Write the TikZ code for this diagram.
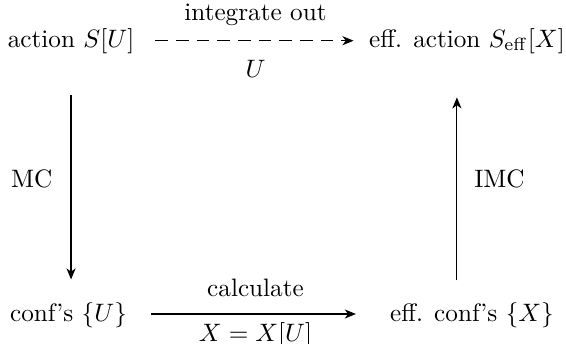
\documentclass[tikz,border=0pt]{standalone}
\usetikzlibrary{arrows.meta}
\begin{document}
\begin{tikzpicture}[x=1pt,y=1pt,
  lbl/.style={inner sep=0pt, anchor=base},
  arr/.style={-{Stealth[length=4.4pt,width=3.6pt,inset=1.3pt]}, line width=0.45pt},
  dasharr/.style={arr, dash pattern=on 5pt off 3.2pt}]
\useasboundingbox (0,0) rectangle (224.6,-136.5);
% main nodes
\node[lbl] (a) at (28.2,-18.65) {action $S[U]$};
\node[lbl] (b) at (185.3,-18.65) {eff. action $S_{\mathrm{eff}}[X]$};
\node[lbl] (c) at (27.2,-127.4) {conf's $\{U\}$};
\node[lbl] (d) at (187.3,-127.4) {eff. conf's $\{X\}$};
% labels
\node[lbl] (l1) at (101.4,-8.3) {integrate out};
\node[lbl] (l2) at (101.4,-30.8) {$U$};
\node[lbl] (l3) at (101.4,-117.5) {calculate};
\node[lbl] (l4) at (101.4,-135.6) {$X=X[U]$};
\node[inner sep=0pt, anchor=east] (mc) at (21,-71) {MC};
\node[inner sep=0pt, anchor=west] (imc) at (188,-71) {IMC};
% arrows
\draw[dasharr, shorten <=8.2pt, shorten >=6pt]
  ([yshift=2.5pt]a.base east) -- ([yshift=2.5pt]b.base west);
\draw[arr, shorten <=9.5pt, shorten >=13.4pt]
  ([yshift=2.8pt]c.base east) -- ([yshift=2.8pt]d.base west);
\draw[arr, shorten <=16.5pt, shorten >=8.8pt]
  (a.south) -- (a.south |- c.north);
\draw[arr, shorten <=8.4pt, shorten >=17.3pt]
  ([xshift=-4pt]b.south |- d.north) -- ([xshift=-4pt]b.south);
\end{tikzpicture}
\end{document}
